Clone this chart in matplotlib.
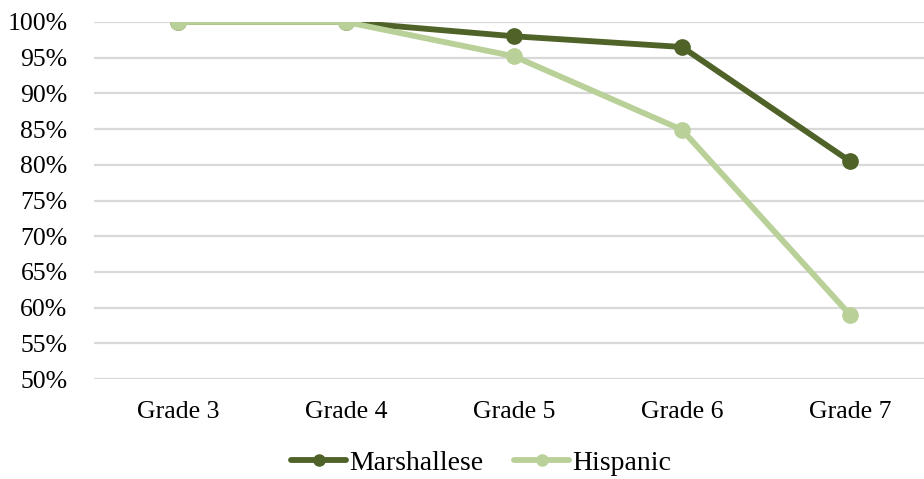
import matplotlib
matplotlib.use("Agg")
import matplotlib.pyplot as plt
from matplotlib.ticker import FuncFormatter
from matplotlib.lines import Line2D

grades = ["Grade 3", "Grade 4", "Grade 5", "Grade 6", "Grade 7"]
marshallese = [100, 100, 98.0, 96.5, 80.5]
hispanic = [100, 100, 95.2, 84.9, 59.0]
yticks = list(range(50, 101, 5))

dark = "#4F6228"
light = "#B9D098"
fs = 18.5
legend_fs = 20

plt.rcParams["font.family"] = ["Liberation Serif", "DejaVu Serif"]

fig = plt.figure(figsize=(9.24, 4.79), dpi=100)
W, H = 924, 479
ax = fig.add_axes([94 / W, 1 - 379 / H, (934 - 94) / W, (379 - 22) / H])

x = list(range(len(grades)))
ax.plot(x, marshallese, color=dark, lw=4.2, marker="o", ms=11,
        solid_capstyle="round", zorder=3)
ax.plot(x, hispanic, color=light, lw=4.2, marker="o", ms=11,
        solid_capstyle="round", zorder=4)

ax.set_xlim(-0.5, len(grades) - 0.5)
ax.set_ylim(50, 100)
ax.set_yticks(yticks)
ax.yaxis.set_major_formatter(FuncFormatter(lambda v, p: f"{v:.0f}%"))
ax.set_xticks(x)
ax.set_xticklabels(grades)
ax.tick_params(axis="both", length=0, labelsize=fs, colors="black")
ax.tick_params(axis="y", pad=19)
ax.tick_params(axis="x", pad=16)
ax.grid(axis="y", color="#D9D9D9", lw=1.6, zorder=0)
ax.set_axisbelow(True)
for s in ax.spines.values():
    s.set_visible(False)

handles = [
    Line2D([], [], color=dark, lw=4.2, marker="o", ms=8, solid_capstyle="round"),
    Line2D([], [], color=light, lw=4.2, marker="o", ms=8, solid_capstyle="round"),
]
fig.legend(handles, ["Marshallese", "Hispanic"], loc="center",
           bbox_to_anchor=(481 / W, 1 - 463 / H), ncol=2,
           frameon=False, fontsize=legend_fs, handlelength=2.0, handletextpad=0.1,
           columnspacing=1.1, borderaxespad=0)

fig.savefig("out.png", dpi=100)
